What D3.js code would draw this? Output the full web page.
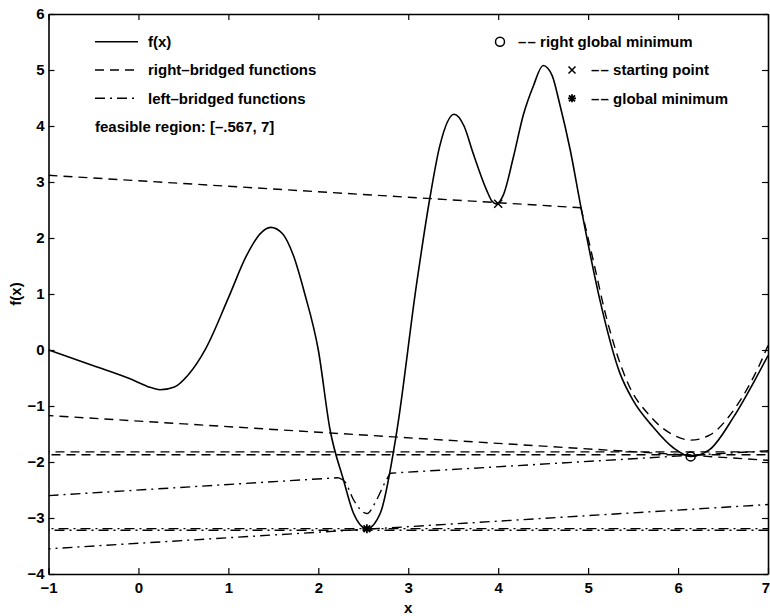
<!DOCTYPE html>
<html>
<head>
<meta charset="utf-8">
<script src="https://cdn.jsdelivr.net/npm/d3@7"></script>
<style>
    body { margin: 0; background: #fff; }
    svg { display: block; font-family: "Liberation Sans", Arial, sans-serif; }
    .tick text { font-size: 15px; font-weight: bold; fill: #000; }
</style>
</head>
<body>
<svg id="chart"></svg>
<script>
// f(x)
const fx_x = [ -1, -0.5, -0.1, 0.1, 0.24, 0.4, 0.55, 0.75, 1.0, 1.2, 1.35, 1.47, 1.6, 1.72, 1.85, 2.0, 2.13, 2.28, 2.39, 2.54, 2.69, 2.87, 3.09, 3.24, 3.35, 3.51, 3.62, 3.72, 3.87, 3.93, 3.98, 4.06, 4.17, 4.28, 4.39, 4.50, 4.60, 4.68, 4.80, 4.92, 5.13, 5.35, 5.5, 5.72, 5.95, 6.14, 6.35, 6.62, 6.85, 7.0 ];
const fx_y = [ 0, -0.28, -0.51, -0.65, -0.71, -0.66, -0.45, 0.03, 0.93, 1.68, 2.07, 2.19, 2.08, 1.7, 1.0, 0.0, -1.42, -2.32, -2.91, -3.19, -2.91, -1.48, 1.15, 2.71, 3.64, 4.21, 4.0, 3.52, 2.86, 2.66, 2.61, 2.78, 3.45, 4.2, 4.71, 5.08, 4.9, 4.42, 3.58, 2.55, 0.9, -0.4, -0.9, -1.37, -1.75, -1.90, -1.78, -1.19, -0.55, -0.1 ];

// right-bridged functions (dashed): straight pieces and curved pieces
const right_bridged_lines = [
    [ [-1, 3.12], [4.92, 2.54] ],
    [ [-1, -1.17], [6.14, -1.88], [7, -1.97] ],
    [ [-1, -1.82], [7, -1.82] ],
    [ [-1, -1.87], [7, -1.87] ]
];
const right_bridged_curves = [
    [ [4.92, 2.54], [5.05, 1.65], [5.2, 0.6], [5.43, -0.55], [5.7, -1.2], [5.95, -1.52], [6.14, -1.61], [6.35, -1.52], [6.65, -1.0], [6.91, -0.25], [7.0, 0.08] ]
];

// left-bridged functions (dash-dot)
const left_bridged_lines = [
    [ [-1, -2.60], [2.22, -2.28] ],
    [ [2.80, -2.20], [6.14, -1.88], [7, -1.80] ],
    [ [-1, -3.55], [7, -2.76] ],
    [ [-1, -3.19], [7, -3.19] ],
    [ [-1, -3.22], [7, -3.22] ]
];
const left_bridged_curves = [
    [ [2.22, -2.28], [2.30, -2.36], [2.39, -2.67], [2.54, -2.92], [2.65, -2.67], [2.74, -2.37], [2.80, -2.20] ]
];

// marked points
const right_global_min = [ 6.14, -1.90 ];
const starting_point = [ 4.0, 2.61 ];
const global_min = [ 2.54, -3.19 ];

const x_ticks = [ -1, 0, 1, 2, 3, 4, 5, 6, 7 ];
const y_ticks = [ -4, -3, -2, -1, 0, 1, 2, 3, 4, 5, 6 ];

const legend_left = [ 'f(x)', 'right\u2013bridged functions', 'left\u2013bridged functions' ];
const legend_note = 'feasible region: [\u2013.567, 7]';
const legend_right = [ '\u2013\u200a\u2013 right global minimum', '\u2013\u200a\u2013 starting point', '\u2013\u200a\u2013 global minimum' ];

const width = 770, height = 616;
const margin = { top: 14, right: 2, bottom: 42, left: 48.5 };
const inner_width = width - margin.left - margin.right;
const inner_height = height - margin.top - margin.bottom;

const DASH = '9,6';
const DASHDOT = '10,5,2,5';

const svg = d3.select( '#chart' )
    .attr( 'width', width )
    .attr( 'height', height );

const chart = svg.append( 'g' )
    .attr( 'transform', `translate(${margin.left}, ${margin.top})` );

const xscale = d3.scaleLinear().domain( [ -1, 7 ] ).range( [ 0, inner_width ] );
const yscale = d3.scaleLinear().domain( [ -4, 6 ] ).range( [ inner_height, 0 ] );

const fmt = d => d < 0 ? '\u2212' + Math.abs( d ) : String( d );

chart.append( 'defs' ).append( 'clipPath' ).attr( 'id', 'clip' )
    .append( 'rect' ).attr( 'width', inner_width ).attr( 'height', inner_height );

const plot = chart.append( 'g' ).attr( 'clip-path', 'url(#clip)' );

const straight = d3.line()
    .x( d => xscale( d[0] ) )
    .y( d => yscale( d[1] ) );

const smooth = d3.line()
    .x( d => xscale( d[0] ) )
    .y( d => yscale( d[1] ) )
    .curve( d3.curveMonotoneX );

function draw( pieces, gen, dash, width ) {
    pieces.forEach( ( pts, i ) => {
        plot.append( 'path' )
            .attr( 'd', gen( pts ) )
            .attr( 'fill', 'none' )
            .attr( 'stroke', '#000' )
            .attr( 'stroke-width', width )
            .attr( 'stroke-dasharray', dash )
            .attr( 'stroke-dashoffset', i * 4 );
    });
}

// bridged functions
draw( left_bridged_lines, straight, DASHDOT, 1.4 );
draw( left_bridged_curves, smooth, DASHDOT, 1.4 );
draw( right_bridged_lines, straight, DASH, 1.4 );
draw( right_bridged_curves, smooth, DASH, 1.4 );

// f(x)
draw( [ fx_x.map( ( x, i ) => [ x, fx_y[i] ] ) ], smooth, null, 1.6 );

// markers
function circle_marker( g, cx, cy ) {
    g.append( 'circle' ).attr( 'cx', cx ).attr( 'cy', cy ).attr( 'r', 4.5 )
        .attr( 'fill', 'none' ).attr( 'stroke', '#000' ).attr( 'stroke-width', 1.5 );
}
function cross_marker( g, cx, cy, s ) {
    g.append( 'path' )
        .attr( 'd', `M${cx - s},${cy - s}L${cx + s},${cy + s}M${cx - s},${cy + s}L${cx + s},${cy - s}` )
        .attr( 'stroke', '#000' ).attr( 'stroke-width', 1.5 );
}
function star_marker( g, cx, cy, s ) {
    let d = `M${cx - s},${cy}L${cx + s},${cy}M${cx},${cy - s}L${cx},${cy + s}`;
    const t = s * 0.75;
    d += `M${cx - t},${cy - t}L${cx + t},${cy + t}M${cx - t},${cy + t}L${cx + t},${cy - t}`;
    g.append( 'path' ).attr( 'd', d ).attr( 'stroke', '#000' ).attr( 'stroke-width', 1.8 );
}

circle_marker( chart, xscale( right_global_min[0] ), yscale( right_global_min[1] ) );
cross_marker( chart, xscale( starting_point[0] ), yscale( starting_point[1] ), 4 );
star_marker( chart, xscale( global_min[0] ), yscale( global_min[1] ), 4.5 );

// axes with inward ticks on all sides
const xaxis_group = chart.append( 'g' )
    .attr( 'transform', `translate(0, ${inner_height})` )
    .call( d3.axisBottom( xscale ).tickValues( x_ticks ).tickFormat( fmt ).tickSize( -6 ).tickSizeOuter( 0 ).tickPadding( 8 ) );
chart.append( 'g' )
    .call( d3.axisTop( xscale ).tickValues( x_ticks ).tickFormat( '' ).tickSize( -6 ).tickSizeOuter( 0 ) );
chart.append( 'g' )
    .call( d3.axisLeft( yscale ).tickValues( y_ticks ).tickFormat( fmt ).tickSize( -6 ).tickSizeOuter( 0 ).tickPadding( 4 ) );
chart.append( 'g' )
    .attr( 'transform', `translate(${inner_width}, 0)` )
    .call( d3.axisRight( yscale ).tickValues( y_ticks ).tickFormat( '' ).tickSize( -6 ).tickSizeOuter( 0 ) );

// last x label sits at the window edge: keep it inside
xaxis_group.selectAll( '.tick text' )
    .filter( d => d === x_ticks[ x_ticks.length - 1 ] )
    .attr( 'text-anchor', 'end' )
    .attr( 'x', 1.5 );

chart.selectAll( '.domain, .tick line' ).attr( 'stroke', '#000' ).attr( 'stroke-width', 1.6 );
chart.selectAll( '.tick line' ).attr( 'stroke-width', 1.2 );

// axis titles
svg.append( 'text' )
    .attr( 'x', margin.left + inner_width / 2 ).attr( 'y', 608 )
    .attr( 'text-anchor', 'middle' ).attr( 'dy', '0.35em' )
    .attr( 'font-size', 15 ).attr( 'font-weight', 'bold' )
    .text( 'x' );
svg.append( 'text' )
    .attr( 'transform', `translate(16, ${margin.top + inner_height / 2}) rotate(-90)` )
    .attr( 'text-anchor', 'middle' ).attr( 'dy', '0.35em' )
    .attr( 'font-size', 15 ).attr( 'font-weight', 'bold' )
    .text( 'f(x)' );

// legend, left block
const legend = svg.append( 'g' );
const rows_y = [ 41.7, 70, 98.3, 126.7 ];
const styles = [ null, DASH, DASHDOT ];
legend_left.forEach( ( label, i ) => {
    legend.append( 'line' )
        .attr( 'x1', 95 ).attr( 'x2', 138 )
        .attr( 'y1', rows_y[i] ).attr( 'y2', rows_y[i] )
        .attr( 'stroke', '#000' ).attr( 'stroke-width', 1.4 )
        .attr( 'stroke-dasharray', styles[i] );
    legend.append( 'text' )
        .attr( 'x', 148 ).attr( 'y', rows_y[i] ).attr( 'dy', '0.35em' )
        .attr( 'font-size', 15 ).attr( 'font-weight', 'bold' )
        .text( label );
});
legend.append( 'text' )
    .attr( 'x', 95 ).attr( 'y', rows_y[3] ).attr( 'dy', '0.35em' )
    .attr( 'font-size', 15 ).attr( 'font-weight', 'bold' )
    .text( legend_note );

// legend, right block
circle_marker( legend, 500, rows_y[0] );
cross_marker( legend, 572, rows_y[1], 3.5 );
star_marker( legend, 572, rows_y[2], 4 );
const right_x = [ 518, 591, 591 ];
legend_right.forEach( ( label, i ) => {
    legend.append( 'text' )
        .attr( 'x', right_x[i] ).attr( 'y', rows_y[i] ).attr( 'dy', '0.35em' )
        .attr( 'font-size', 15 ).attr( 'font-weight', 'bold' )
        .text( label );
});
</script>
</body>
</html>
